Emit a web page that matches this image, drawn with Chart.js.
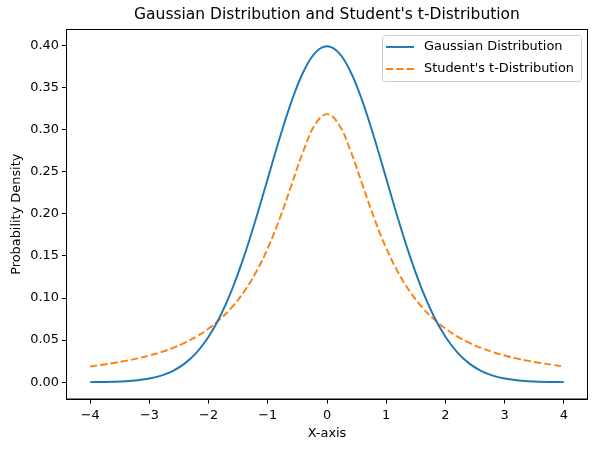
<!DOCTYPE html>
<html>
<head>
<meta charset="utf-8">
<script src="https://cdn.jsdelivr.net/npm/chart.js@4"></script>
<style>
  html, body { margin: 0; padding: 0; background: #fff; }
  #wrap { width: 596px; height: 450px; }
</style>
</head>
<body>
<div id="wrap"><canvas id="chart" width="596" height="450"></canvas></div>
<script>
// values, x from -4 to 4 in steps of 0.2
const xValues = [
  -4, -3.8, -3.6, -3.4, -3.2, -3, -2.8, -2.6, -2.4, -2.2, -2, -1.8, -1.6, -1.4, -1.2, -1, -0.8, -0.6, -0.4, -0.2,
  0, 0.2, 0.4, 0.6, 0.8, 1, 1.2, 1.4, 1.6, 1.8, 2, 2.2, 2.4, 2.6, 2.8, 3, 3.2, 3.4, 3.6, 3.8, 4
];
const gaussValues = [
  0.0001, 0.0003, 0.0006, 0.0012, 0.0024, 0.0044, 0.0079, 0.0136, 0.0224, 0.0355,
  0.0540, 0.0790, 0.1109, 0.1497, 0.1942, 0.2420, 0.2897, 0.3332, 0.3683, 0.3910,
  0.3989,
  0.3910, 0.3683, 0.3332, 0.2897, 0.2420, 0.1942, 0.1497, 0.1109, 0.0790, 0.0540,
  0.0355, 0.0224, 0.0136, 0.0079, 0.0044, 0.0024, 0.0012, 0.0006, 0.0003, 0.0001
];
const studentValues = [
  0.0187, 0.0207, 0.0229, 0.0254, 0.0283, 0.0318, 0.0358, 0.0408, 0.0469, 0.0544,
  0.0637, 0.0752, 0.0895, 0.1077, 0.1306, 0.1592, 0.1941, 0.2341, 0.2744, 0.3061,
  0.3183,
  0.3061, 0.2744, 0.2341, 0.1941, 0.1592, 0.1306, 0.1077, 0.0895, 0.0752, 0.0637,
  0.0544, 0.0469, 0.0408, 0.0358, 0.0318, 0.0283, 0.0254, 0.0229, 0.0207, 0.0187
];
const xTicks = [-4, -3, -2, -1, 0, 1, 2, 3, 4];
const yTicks = [0, 0.05, 0.10, 0.15, 0.20, 0.25, 0.30, 0.35, 0.40];
const seriesNames = ['Gaussian Distribution', "Student's t-Distribution"];
const chartTitle = "Gaussian Distribution and Student's t-Distribution";

const FONT = 'DejaVu Sans';
const BLUE = '#1f77b4';
const ORANGE = '#ff7f0e';
const LW = 1.94;
const DASH = [7.2, 3.1];

function toPoints(ys) {
  return xValues.map((x, i) => ({ x: x, y: ys[i] }));
}

// frame, title over the plot area, legend box inside it
const framePlugin = {
  id: 'frame',
  afterDraw(chart) {
    const ctx = chart.ctx;
    const a = chart.chartArea;
    ctx.save();
    ctx.strokeStyle = '#000';
    ctx.lineWidth = 1;
    ctx.strokeRect(a.left, a.top, a.right - a.left, a.bottom - a.top);

    ctx.fillStyle = '#000';
    ctx.font = '15.5px "' + FONT + '"';
    ctx.textAlign = 'center';
    ctx.textBaseline = 'middle';
    ctx.fillText(chartTitle, (a.left + a.right) / 2, 15);

    // legend
    const bx = 382.5, by = 35.5, bw = 199, bh = 46;
    ctx.fillStyle = 'rgba(255,255,255,0.8)';
    ctx.strokeStyle = '#cccccc';
    ctx.beginPath();
    ctx.roundRect(bx, by, bw, bh, 3);
    ctx.fill();
    ctx.stroke();

    const rows = [
      { label: seriesNames[0], color: BLUE, dash: [] },
      { label: seriesNames[1], color: ORANGE, dash: DASH }
    ];
    ctx.font = '12.9px "' + FONT + '"';
    ctx.textAlign = 'left';
    rows.forEach((r, i) => {
      const y = 47 + i * 22;
      ctx.strokeStyle = r.color;
      ctx.lineWidth = LW;
      ctx.setLineDash(r.dash);
      ctx.beginPath();
      ctx.moveTo(386, y);
      ctx.lineTo(414, y);
      ctx.stroke();
      ctx.setLineDash([]);
      ctx.fillStyle = '#000';
      ctx.fillText(r.label, 424, y);
    });
    ctx.restore();
  }
};

new Chart(document.getElementById('chart'), {
  type: 'line',
  data: {
    datasets: [{
      label: seriesNames[0],
      data: toPoints(gaussValues),
      borderColor: BLUE,
      borderWidth: LW,
      pointRadius: 0,
      tension: 0.4,
      fill: false
    }, {
      label: seriesNames[1],
      data: toPoints(studentValues),
      borderColor: ORANGE,
      borderWidth: LW,
      borderDash: DASH,
      pointRadius: 0,
      tension: 0.4,
      fill: false
    }]
  },
  options: {
    responsive: false,
    animation: false,
    devicePixelRatio: 1,
    layout: { padding: { left: 0, right: 8.5, top: 29.5, bottom: 0 } },
    plugins: {
      legend: { display: false },
      tooltip: { enabled: false },
      title: { display: false }
    },
    scales: {
      x: {
        type: 'linear',
        min: -4.4,
        max: 4.4,
        afterBuildTicks: s => { s.ticks = xTicks.map(v => ({ value: v })); },
        afterFit: s => { s.height = 51; },
        grid: { display: true, drawOnChartArea: false, drawTicks: true, tickLength: 4.6, color: '#000' },
        border: { display: true, color: '#000' },
        ticks: {
          color: '#000',
          padding: 4,
          maxRotation: 0,
          font: { family: FONT, size: 12.9 },
          callback: v => String(v).replace('-', '\u2212')
        },
        title: {
          display: true,
          text: 'X-axis',
          color: '#000',
          font: { family: FONT, size: 12.9 },
          padding: { top: 0, bottom: 9 }
        }
      },
      y: {
        type: 'linear',
        min: -0.0199,
        max: 0.4188,
        afterBuildTicks: s => { s.ticks = yTicks.map(v => ({ value: v })); },
        afterFit: s => { s.width = 66.5; },
        grid: { display: true, drawOnChartArea: false, drawTicks: true, tickLength: 4.6, color: '#000' },
        border: { display: true, color: '#000' },
        ticks: {
          color: '#000',
          padding: 3,
          font: { family: FONT, size: 12.9 },
          callback: v => v.toFixed(2)
        },
        title: {
          display: true,
          text: 'Probability Density',
          color: '#000',
          font: { family: FONT, size: 12.9 },
          padding: { top: 9, bottom: 0 }
        }
      }
    }
  },
  plugins: [framePlugin]
});
</script>
</body>
</html>
